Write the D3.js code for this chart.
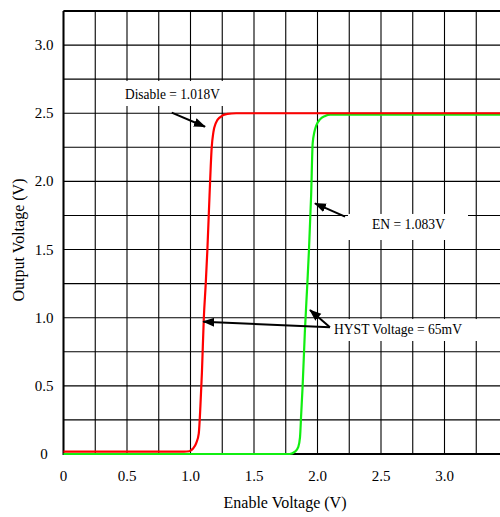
<!DOCTYPE html>
<html>
<head>
<meta charset="utf-8">
<script src="https://cdn.jsdelivr.net/npm/d3@7"></script>
<style>
  html, body { margin: 0; padding: 0; background: #fff; }
  svg { display: block; }
</style>
</head>
<body>
<svg id="chart" width="500" height="517"></svg>
<script>
// ---- data ----
const xTicks = [0, 0.5, 1.0, 1.5, 2.0, 2.5, 3.0];
const xTickLabels = ["0", "0.5", "1.0", "1.5", "2.0", "2.5", "3.0"];
const yTicks = [0, 0.5, 1.0, 1.5, 2.0, 2.5, 3.0];
const yTickLabels = ["0", "0.5", "1.0", "1.5", "2.0", "2.5", "3.0"];
const xLabel = "Enable Voltage (V)";
const yLabel = "Output Voltage (V)";

// Disable (falling) curve – red
const disableX = [0, 0.95, 0.99, 1.02, 1.045, 1.065, 1.078, 1.09, 1.105, 1.12, 1.133, 1.15, 1.167, 1.18, 1.20, 1.232, 1.29, 1.36, 3.5];
const disableY = [0.017, 0.017, 0.02, 0.04, 0.08, 0.15, 0.35, 0.6, 1.0, 1.25, 1.5, 1.9, 2.25, 2.36, 2.43, 2.47, 2.495, 2.5, 2.5];
// Enable (rising) curve – green
const enableX = [0, 1.78, 1.823, 1.848, 1.862, 1.872, 1.883, 1.90, 1.92, 1.933, 1.95, 1.962, 1.975, 1.99, 2.02, 2.06, 2.10, 3.5];
const enableY = [0, 0, 0.017, 0.05, 0.12, 0.3, 0.5, 0.886, 1.25, 1.5, 1.9, 2.28, 2.36, 2.41, 2.455, 2.48, 2.49, 2.49];

// annotations (data units)
const noteTexts = ["Disable = 1.018V", "EN = 1.083V", "HYST Voltage = 65mV"];
const noteBoxX0 = [0.453, 2.240, 2.028];
const noteBoxX1 = [1.264, 3.185, 3.5];
const noteBoxYTop = [2.737, 1.761, 0.990];
const noteBoxYBot = [2.553, 1.570, 0.829];
const noteTextX = [0.484, 2.429, 2.130];
const noteTextY = [2.601, 1.654, 0.884];
const noteTextW = [95, 73, 128];
const arrowFromX = [0.852, 2.217, 2.098, 2.098];
const arrowFromY = [2.504, 1.741, 0.930, 0.930];
const arrowToX = [1.114, 1.980, 1.101, 1.941];
const arrowToY = [2.401, 1.839, 0.971, 1.056];

// ---- chart ----
const FONT = "'Liberation Serif', 'Times New Roman', serif";
const svg = d3.select("#chart").attr("font-family", FONT);
svg.append("rect").attr("width", 500).attr("height", 517).attr("fill", "#fff");

const x = d3.scaleLinear().domain([0, 3.5]).range([63.5, 508]);
const y = d3.scaleLinear().domain([0, 3.25]).range([454, 11]);

const grid = svg.append("g");
const gx = d3.range(0, 3.5001, 0.25);
const gy = d3.range(0, 3.2501, 0.25);
grid.selectAll("line.v").data(gx).enter().append("line")
  .attr("x1", d => x(d)).attr("x2", d => x(d))
  .attr("y1", y(3.25)).attr("y2", y(0))
  .attr("stroke", "#000").attr("stroke-width", 1.1);
grid.selectAll("line.h").data(gy).enter().append("line")
  .attr("x1", x(0)).attr("x2", x(3.5))
  .attr("y1", d => y(d)).attr("y2", d => y(d))
  .attr("stroke", "#000").attr("stroke-width", 1.1);

// frame lines
svg.append("line").attr("x1", x(0)).attr("x2", x(3.5)).attr("y1", y(3.25)).attr("y2", y(3.25))
  .attr("stroke", "#000").attr("stroke-width", 2);
svg.append("line").attr("x1", x(0)).attr("x2", x(0)).attr("y1", y(3.25)).attr("y2", y(0) + 1)
  .attr("stroke", "#000").attr("stroke-width", 2);
svg.append("line").attr("x1", x(0)).attr("x2", x(3.5)).attr("y1", y(0)).attr("y2", y(0))
  .attr("stroke", "#000").attr("stroke-width", 2);

// annotation boxes (white)
const boxes = svg.append("g");
noteTexts.forEach((t, i) => {
  boxes.append("rect")
    .attr("x", x(noteBoxX0[i])).attr("y", y(noteBoxYTop[i]))
    .attr("width", x(noteBoxX1[i]) - x(noteBoxX0[i]))
    .attr("height", y(noteBoxYBot[i]) - y(noteBoxYTop[i]))
    .attr("fill", "#fff");
});

// curves
const line = d3.line().x(d => x(d[0])).y(d => y(d[1])).curve(d3.curveMonotoneX);
svg.append("path").datum(enableX.map((v, i) => [v, enableY[i]]))
  .attr("d", line).attr("fill", "none").attr("stroke", "#11ee11").attr("stroke-width", 2.2);
svg.append("path").datum(disableX.map((v, i) => [v, disableY[i]]))
  .attr("d", line).attr("fill", "none").attr("stroke", "#ff0000").attr("stroke-width", 2.2);

// arrows
const defs = svg.append("defs");
defs.append("marker").attr("id", "ah")
  .attr("viewBox", "0 -5 12 10").attr("refX", 11).attr("refY", 0)
  .attr("markerWidth", 12).attr("markerHeight", 10)
  .attr("markerUnits", "userSpaceOnUse").attr("orient", "auto")
  .append("path").attr("d", "M0,-4.5L12,0L0,4.5Z").attr("fill", "#000");
arrowFromX.forEach((v, i) => {
  svg.append("line")
    .attr("x1", x(v)).attr("y1", y(arrowFromY[i]))
    .attr("x2", x(arrowToX[i])).attr("y2", y(arrowToY[i]))
    .attr("stroke", "#000").attr("stroke-width", 2)
    .attr("marker-end", "url(#ah)");
});

// annotation texts
noteTexts.forEach((t, i) => {
  svg.append("text")
    .attr("x", x(noteTextX[i])).attr("y", y(noteTextY[i]))
    .attr("font-family", FONT).attr("font-size", 14.5)
    .attr("textLength", noteTextW[i]).attr("lengthAdjust", "spacingAndGlyphs")
    .text(t);
});

// tick labels
svg.selectAll("text.xt").data(xTicks).enter().append("text")
  .attr("x", d => x(d)).attr("y", 481)
  .attr("font-family", FONT)
  .attr("text-anchor", "middle").attr("font-size", 15)
  .text((d, i) => xTickLabels[i]);
svg.selectAll("text.yt").data(yTicks).enter().append("text")
  .attr("x", 44).attr("y", d => y(d) + 5)
  .attr("font-family", FONT)
  .attr("text-anchor", "middle").attr("font-size", 15)
  .text((d, i) => yTickLabels[i]);

// axis titles
svg.append("text").attr("x", 285).attr("y", 508)
  .attr("font-family", FONT)
  .attr("text-anchor", "middle").attr("font-size", 16).text(xLabel);
svg.append("text").attr("transform", "translate(24,240) rotate(-90)")
  .attr("font-family", FONT)
  .attr("text-anchor", "middle").attr("font-size", 16).text(yLabel);
</script>
</body>
</html>
